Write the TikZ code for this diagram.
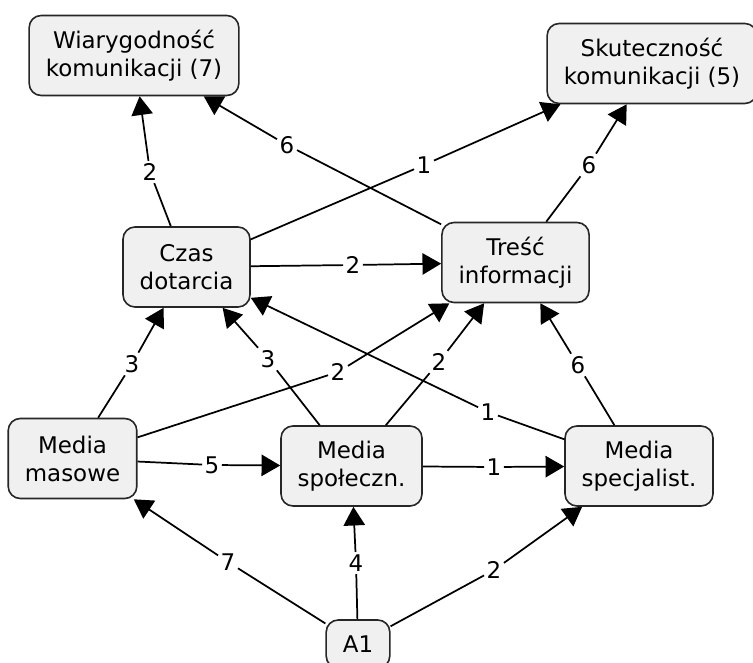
\documentclass[tikz,border=0pt]{standalone}
\usepackage{fontspec}
\setmainfont{DejaVu Sans}
\usepackage{tikz}
\usetikzlibrary{arrows.meta}

\begin{document}
\begin{tikzpicture}[
  x=0.75pt, y=-0.75pt,
  % Styles
  concept/.style={draw=black!85, line width=1.2pt, rounded corners=9pt, fill=black!6,
                  minimum height=60pt, inner xsep=12.5pt, align=center,
                  font=\fontsize{17.2}{21}\selectfont},
  wt/.style={inner sep=1.8pt, font=\fontsize{17.2}{21}\selectfont},
  link/.style={-{Triangle[length=14pt,width=16pt]}, line width=1.3pt}
]
\useasboundingbox (0,0) rectangle (753,663);

% --- 1. Outcomes ---
\node[concept] (wiar) at (134,55.5) {Wiarygodność\\komunikacji (7)};
\node[concept] (skut) at (652,63.5) {Skuteczność\\komunikacji (5)};

% --- 2. Intermediate factors ---
\node[concept] (czas) at (186.5,267) {Czas\\dotarcia};
\node[concept] (tresc) at (515.5,262.5) {Treść\\informacji};

% --- 3. Media ---
\node[concept] (masowe) at (72.5,458.5) {Media\\masowe};
\node[concept] (spol) at (351.5,466) {Media\\społeczn.};
\node[concept] (spec) at (639,466) {Media\\specjalist.};

% --- 4. Source ---
\node[concept, minimum height=36pt] (a1) at (358,644) {A1};

% --- 5. Weights (links pass through them) ---
\node[wt] (w-czas-wiar) at (150,172) {2};
\node[wt] (w-tresc-wiar) at (287,145) {6};
\node[wt] (w-czas-skut) at (424,165) {1};
\node[wt] (w-tresc-skut) at (589,165) {6};
\node[wt] (w-czas-tresc) at (353,265) {2};
\node[wt] (w-mas-czas) at (132,364) {3};
\node[wt] (w-mas-tresc) at (338,372) {2};
\node[wt] (w-spol-czas) at (268,359) {3};
\node[wt] (w-spol-tresc) at (439,362) {2};
\node[wt] (w-spec-czas) at (488,412) {1};
\node[wt] (w-spec-tresc) at (578,365) {6};
\node[wt] (w-mas-spol) at (212,465) {5};
\node[wt] (w-spol-spec) at (494,467) {1};
\node[wt] (w-a1-mas) at (228,562) {7};
\node[wt] (w-a1-spol) at (356,563) {4};
\node[wt] (w-a1-spec) at (494,570) {2};

% --- 6. Links ---
\draw[link] (czas) -- (w-czas-wiar) -- (wiar);
\draw[link] (tresc) -- (w-tresc-wiar) -- (wiar);
\draw[link] (czas) -- (w-czas-skut) -- (skut);
\draw[link] (tresc) -- (w-tresc-skut) -- (skut);
\draw[link] (czas) -- (w-czas-tresc) -- (tresc);

\draw[link] (masowe) -- (w-mas-czas) -- (czas);
\draw[link] (masowe) -- (w-mas-tresc) -- (tresc);
\draw[link] (spol) -- (w-spol-czas) -- (czas);
\draw[link] (spol) -- (w-spol-tresc) -- (tresc);
\draw[link] (spec) -- (w-spec-czas) -- (czas);
\draw[link] (spec) -- (w-spec-tresc) -- (tresc);

\draw[link] (masowe) -- (w-mas-spol) -- (spol);
\draw[link] (spol) -- (w-spol-spec) -- (spec);

\draw[link] (a1) -- (w-a1-mas) -- (masowe);
\draw[link] (a1) -- (w-a1-spol) -- (spol);
\draw[link] (a1) -- (w-a1-spec) -- (spec);

\end{tikzpicture}
\end{document}
